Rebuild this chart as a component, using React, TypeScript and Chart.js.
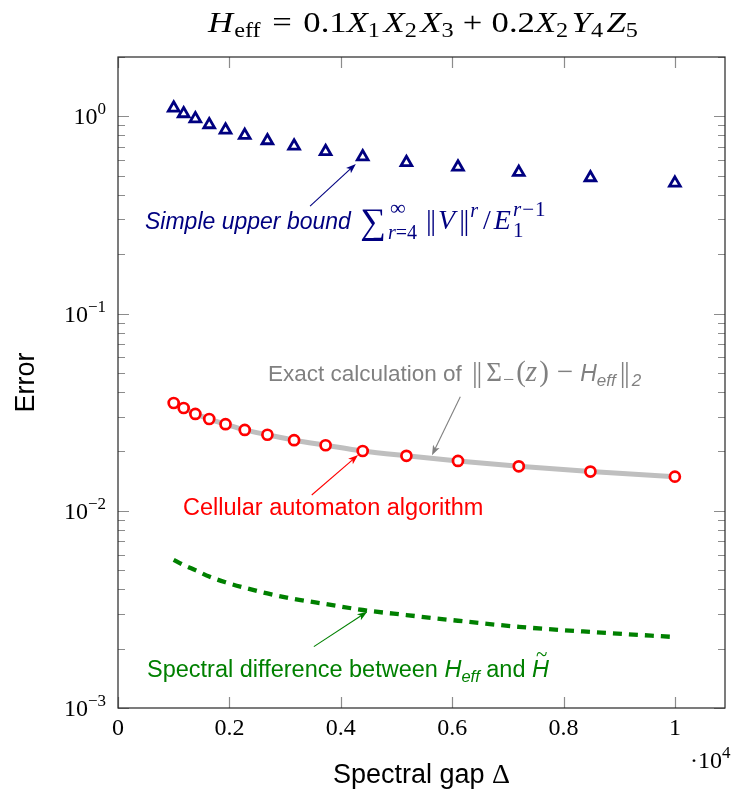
import React, { useEffect, useRef } from 'react';
import { Chart, registerables } from 'chart.js';

Chart.register(...registerables);

// ---------- data ----------
const deltaValues = [1000, 1179, 1389, 1638, 1931, 2276, 2683, 3162, 3728, 4394, 5179, 6105, 7197, 8483, 10000];
const upperBoundValues = [1.103, 1.032, 0.973, 0.908, 0.853, 0.801, 0.753, 0.708, 0.664, 0.624, 0.584, 0.554, 0.52, 0.489, 0.459];
const cellularValues = [0.0352, 0.0332, 0.031, 0.0292, 0.0275, 0.0257, 0.0243, 0.0228, 0.0215, 0.0201, 0.019, 0.0179, 0.0168, 0.0158, 0.0149];
const exactValues = [0.0352, 0.0332, 0.031, 0.0292, 0.0275, 0.0257, 0.0243, 0.0228, 0.0215, 0.0201, 0.019, 0.0179, 0.0168, 0.0158, 0.0149];
const spectralDiffValues = [0.00564, 0.00531, 0.005, 0.00464, 0.00434, 0.00407, 0.00381, 0.00357, 0.00337, 0.00314, 0.00296, 0.00277, 0.00258, 0.00243, 0.00229];

const xTickValues = [0, 2000, 4000, 6000, 8000, 10000];
const xTickLabels = ['0', '0.2', '0.4', '0.6', '0.8', '1'];
const yTickValues = [0.001, 0.01, 0.1, 1];
const yTickExponents = ['\u22123', '\u22122', '\u22121', '0'];

// annotation arrows: [tail, tip] in data coordinates
const upperArrow = [[3449, 0.351], [4271, 0.574]];
const exactArrow = [[6147, 0.0379], [5638, 0.0191]];
const cellularArrow = [[3479, 0.01202], [4311, 0.01919]];
const spectralArrow = [[3517, 0.002047], [4476, 0.003079]];

const SANS = '"Liberation Sans", Arial, Helvetica, sans-serif';
const SERIF = '"Liberation Serif", "DejaVu Serif", serif';
const rm = (s: number) => `${s}px ${SERIF}`;
const it = (s: number) => `italic ${s}px ${SERIF}`;
const ss = (s: number) => `${s}px ${SANS}`;
const si = (s: number) => `italic ${s}px ${SANS}`;

const NAVY = '#000080';
const RED = '#ff0000';
const GREEN = '#008000';
const GREYTXT = '#808080';
const GREYLINE = '#bfbfbf';

type Piece = {
  t?: string;
  f?: string;
  dy?: number;
  dx?: number;
  adv?: boolean;
  gap?: number;
  sub?: Piece[];
  sup?: Piece[];
  subDy?: number;
  supDy?: number;
};

function runWidth(ctx: CanvasRenderingContext2D, pieces: Piece[]): number {
  let w = 0;
  for (const p of pieces) {
    if (p.gap) { w += p.gap; continue; }
    if (p.sub || p.sup) {
      w += Math.max(runWidth(ctx, p.sub || []), runWidth(ctx, p.sup || []));
      continue;
    }
    ctx.font = p.f as string;
    if (p.adv !== false) w += ctx.measureText(p.t as string).width + (p.dx || 0);
  }
  return w;
}

function drawRun(ctx: CanvasRenderingContext2D, x: number, y: number, pieces: Piece[]): number {
  let cx = x;
  for (const p of pieces) {
    if (p.gap) { cx += p.gap; continue; }
    if (p.sub || p.sup) {
      const w1 = p.sub ? drawRun(ctx, cx, y + (p.subDy || 0), p.sub) : 0;
      const w2 = p.sup ? drawRun(ctx, cx, y + (p.supDy || 0), p.sup) : 0;
      cx += Math.max(w1, w2);
      continue;
    }
    ctx.font = p.f as string;
    const w = ctx.measureText(p.t as string).width;
    ctx.fillText(p.t as string, cx + (p.dx || 0), y + (p.dy || 0));
    if (p.adv !== false) cx += w + (p.dx || 0);
  }
  return cx - x;
}

// double vertical bar (norm) built from two bars
const norm = (s: number, dy = 0): Piece[] => [
  { t: '|', f: rm(s), dy }, { gap: -1.5 }, { t: '|', f: rm(s), dy },
];

function drawArrow(ctx: CanvasRenderingContext2D, x1: number, y1: number, x2: number, y2: number, color: string) {
  const a = Math.atan2(y2 - y1, x2 - x1);
  const L = 10, W = 3.6;
  const c = Math.cos(a), s = Math.sin(a);
  ctx.save();
  ctx.strokeStyle = color;
  ctx.fillStyle = color;
  ctx.lineWidth = 1.1;
  ctx.beginPath();
  ctx.moveTo(x1, y1);
  ctx.lineTo(x2 - c * L * 0.7, y2 - s * L * 0.7);
  ctx.stroke();
  ctx.beginPath();
  ctx.moveTo(x2, y2);
  ctx.lineTo(x2 - L * c + W * s, y2 - L * s - W * c);
  ctx.lineTo(x2 - L * 0.75 * c, y2 - L * 0.75 * s);
  ctx.lineTo(x2 - L * c - W * s, y2 - L * s + W * c);
  ctx.closePath();
  ctx.fill();
  ctx.restore();
}

const framePlugin = {
  id: 'framePlugin',
  beforeDatasetsDraw(chart: any) {
    const { ctx, chartArea: ca, scales } = chart;
    const xs = scales.x, ys = scales.y;
    ctx.save();
    ctx.strokeStyle = '#8c8c8c';
    ctx.lineWidth = 1.2;
    const MAJ = 11, MIN = 7;
    ctx.beginPath();
    for (const v of xTickValues) {
      const px = Math.round(xs.getPixelForValue(v)) + 0.5;
      ctx.moveTo(px, ca.bottom); ctx.lineTo(px, ca.bottom - MAJ);
      ctx.moveTo(px, ca.top); ctx.lineTo(px, ca.top + MAJ);
    }
    for (const v of yTickValues) {
      const py = Math.round(ys.getPixelForValue(v)) + 0.5;
      ctx.moveTo(ca.left, py); ctx.lineTo(ca.left + MAJ, py);
      ctx.moveTo(ca.right, py); ctx.lineTo(ca.right - MAJ, py);
    }
    for (const base of yTickValues) {
      for (let m = 2; m <= 9; m++) {
        const v = base * m;
        if (v > ys.max) continue;
        const py = Math.round(ys.getPixelForValue(v)) + 0.5;
        ctx.moveTo(ca.left, py); ctx.lineTo(ca.left + MIN, py);
        ctx.moveTo(ca.right, py); ctx.lineTo(ca.right - MIN, py);
      }
    }
    ctx.stroke();
    ctx.strokeStyle = '#262626';
    ctx.lineWidth = 1.2;
    ctx.strokeRect(ca.left, ca.top, ca.right - ca.left, ca.bottom - ca.top);
    ctx.restore();
  },
  afterDraw(chart: any) {
    const { ctx, chartArea: ca, scales } = chart;
    const xs = scales.x, ys = scales.y;
    const P = (d: number[]) => [xs.getPixelForValue(d[0]), ys.getPixelForValue(d[1])];
    ctx.save();
    ctx.textBaseline = 'alphabetic';
    ctx.textAlign = 'left';

    // x tick labels
    ctx.fillStyle = '#000';
    ctx.font = rm(24);
    xTickValues.forEach((v, i) => {
      const px = xs.getPixelForValue(v);
      const w = ctx.measureText(xTickLabels[i]).width;
      ctx.fillText(xTickLabels[i], px - w / 2, 735);
    });
    drawRun(ctx, 690, 768, [{ t: '\u00b710', f: rm(24) }, { t: '4', f: rm(17), dy: -10 }]);

    // y tick labels
    yTickValues.forEach((v, i) => {
      const py = ys.getPixelForValue(v);
      const pieces: Piece[] = [{ t: '10', f: rm(24) }, { t: yTickExponents[i], f: rm(17), dy: -10 }];
      const w = runWidth(ctx, pieces);
      drawRun(ctx, 106 - w, py + 8, pieces);
    });

    // axis labels
    const xl: Piece[] = [{ t: 'Spectral gap ', f: ss(27) }, { t: '\u0394', f: rm(28) }];
    const xlw = runWidth(ctx, xl);
    drawRun(ctx, (ca.left + ca.right) / 2 - xlw / 2, 783, xl);
    ctx.save();
    ctx.translate(34, (ca.top + ca.bottom) / 2);
    ctx.rotate(-Math.PI / 2);
    ctx.font = ss(27);
    const ew = ctx.measureText('Error').width;
    ctx.fillText('Error', -ew / 2, 0);
    ctx.restore();

    // title
    const TS = 30, TSS = 21;
    const title: Piece[] = [
      { t: 'H', f: it(TS) }, { gap: 1 }, { t: 'eff', f: rm(TSS), dy: 5 }, { gap: 10 },
      { t: '=', f: rm(TS) }, { gap: 10 }, { t: '0.1', f: rm(TS) },
      { t: 'X', f: it(TS) }, { t: '1', f: rm(TSS), dy: 5 }, { gap: 3 },
      { t: 'X', f: it(TS) }, { t: '2', f: rm(TSS), dy: 5 }, { gap: 3 },
      { t: 'X', f: it(TS) }, { t: '3', f: rm(TSS), dy: 5 }, { gap: 8 },
      { t: '+', f: rm(TS) }, { gap: 8 }, { t: '0.2', f: rm(TS) },
      { t: 'X', f: it(TS) }, { t: '2', f: rm(TSS), dy: 5 }, { gap: 3 },
      { t: 'Y', f: it(TS) }, { t: '4', f: rm(TSS), dy: 5 }, { gap: 3 },
      { t: 'Z', f: it(TS) }, { t: '5', f: rm(TSS), dy: 5 },
    ];
    const tw = runWidth(ctx, title);
    const target = 430;
    ctx.save();
    ctx.translate(423 - target / 2, 32);
    ctx.scale(target / tw, 1);
    drawRun(ctx, 0, 0, title);
    ctx.restore();

    // annotation: upper bound
    ctx.fillStyle = NAVY;
    drawRun(ctx, 145, 229, [
      { t: 'Simple upper bound ', f: si(23) },
      { gap: 3 },
      { t: '\u2211', f: rm(36), dy: 4 },
      { gap: 2 },
      { sub: [{ t: 'r', f: it(20) }, { t: '=4', f: rm(20) }], sup: [{ gap: 2 }, { t: '\u221e', f: rm(22) }], subDy: 10, supDy: -14 },
      { gap: 9 },
      ...norm(29, 1), { gap: 2 }, { t: 'V', f: it(28) }, { gap: 4 }, ...norm(29, 1),
      { gap: 1 }, { t: 'r', f: it(20), dy: -12 }, { gap: 5 },
      { t: '/', f: rm(28) }, { gap: 3 },
      { t: 'E', f: it(28) }, { gap: 2 },
      { sub: [{ t: '1', f: rm(21) }], sup: [{ t: 'r', f: it(21) }, { gap: 1 }, { t: '\u2212', f: rm(21) }, { gap: 1 }, { t: '1', f: rm(21) }], subDy: 8, supDy: -13 },
    ]);
    {
      const [a, b] = [P(upperArrow[0]), P(upperArrow[1])];
      drawArrow(ctx, a[0], a[1], b[0], b[1], NAVY);
    }

    // annotation: exact
    ctx.fillStyle = GREYTXT;
    drawRun(ctx, 268, 381, [
      { t: 'Exact calculation of ', f: ss(22.5) },
      { gap: 4 },
      ...norm(29, 1), { gap: 4 },
      { t: '\u03a3', f: rm(27) },
      { gap: 1 }, { t: '\u2212', f: rm(20), dy: 5 }, { gap: 2 },
      { t: '(', f: rm(29) }, { t: 'z', f: it(29) }, { gap: 2 }, { t: ')', f: rm(29) },
      { gap: 8 }, { t: '\u2212', f: rm(29) }, { gap: 7 },
      { t: 'H', f: si(23) }, { t: 'eff', f: si(17), dy: 5 }, { gap: 4 },
      ...norm(29, 1), { gap: 2 }, { t: '2', f: si(17), dy: 5 },
    ]);
    {
      const [a, b] = [P(exactArrow[0]), P(exactArrow[1])];
      drawArrow(ctx, a[0], a[1], b[0], b[1], GREYTXT);
    }

    // annotation: cellular
    ctx.fillStyle = RED;
    drawRun(ctx, 183, 515, [{ t: 'Cellular automaton algorithm', f: ss(23.5) }]);
    {
      const [a, b] = [P(cellularArrow[0]), P(cellularArrow[1])];
      drawArrow(ctx, a[0], a[1], b[0], b[1], RED);
    }

    // annotation: spectral difference
    ctx.fillStyle = GREEN;
    drawRun(ctx, 147, 677, [
      { t: 'Spectral difference between ', f: ss(23.5) },
      { t: 'H', f: si(23.5) }, { t: 'eff', f: si(16.5), dy: 5 },
      { t: ' and ', f: ss(23.5) },
      { t: '~', f: rm(21), dx: 4, dy: -16, adv: false },
      { t: 'H', f: si(23.5) },
    ]);
    {
      const [a, b] = [P(spectralArrow[0]), P(spectralArrow[1])];
      drawArrow(ctx, a[0], a[1], b[0], b[1], GREEN);
    }
    ctx.restore();
  },
};

export default function App() {
  const ref = useRef<HTMLCanvasElement | null>(null);
  useEffect(() => {
    if (!ref.current) return;
    const pts = (vals: number[]) => deltaValues.map((x, i) => ({ x, y: vals[i] }));
    const chart = new Chart(ref.current, {
      type: 'line',
      data: {
        datasets: [
          {
            label: 'Cellular automaton algorithm',
            data: pts(cellularValues),
            showLine: false,
            pointStyle: 'circle',
            pointRadius: 5,
            pointBorderWidth: 2.7,
            pointBorderColor: RED,
            pointBackgroundColor: '#ffffff',
          },
          {
            label: 'Simple upper bound',
            data: pts(upperBoundValues),
            showLine: false,
            pointStyle: 'triangle',
            pointRadius: 6.2,
            pointBorderWidth: 2.8,
            pointBorderColor: NAVY,
            pointBackgroundColor: '#ffffff',
          },
          {
            label: 'Exact calculation',
            data: pts(exactValues),
            borderColor: GREYLINE,
            borderWidth: 5,
            pointRadius: 0,
            cubicInterpolationMode: 'monotone',
            fill: false,
          },
          {
            label: 'Spectral difference',
            data: pts(spectralDiffValues),
            borderColor: GREEN,
            borderWidth: 4.3,
            borderDash: [9, 7],
            borderCapStyle: 'butt',
            pointRadius: 0,
            cubicInterpolationMode: 'monotone',
            fill: false,
          },
        ],
      } as any,
      options: {
        animation: false,
        responsive: false,
        maintainAspectRatio: false,
        layout: { padding: { top: 57, right: 6, left: 0, bottom: 0 } },
        plugins: { legend: { display: false }, tooltip: { enabled: false }, title: { display: false } },
        scales: {
          x: {
            type: 'linear',
            min: 0,
            max: 10900,
            ticks: { display: false },
            grid: { display: false, drawTicks: false },
            border: { display: false },
            afterFit: (s: any) => { s.height = 84; },
          },
          y: {
            type: 'logarithmic',
            min: 0.001,
            max: 2,
            ticks: { display: false },
            grid: { display: false, drawTicks: false },
            border: { display: false },
            afterFit: (s: any) => { s.width = 118; },
          },
        },
      } as any,
      plugins: [framePlugin],
    });
    return () => chart.destroy();
  }, []);
  return (
    <div style={{ position: 'absolute', left: 0, top: 0, width: 734, height: 792, background: '#fff' }}>
      <canvas ref={ref} width={734} height={792} style={{ display: 'block' }} />
    </div>
  );
}
